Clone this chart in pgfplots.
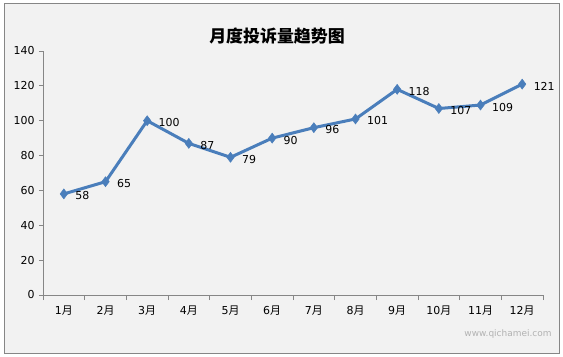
\documentclass[border=0pt]{standalone}
\usepackage{fontspec}
\setmainfont{DejaVu Sans}
\newfontfamily\cjk{Noto Sans CJK SC}
\usepackage{pgfplots}
\pgfplotsset{compat=1.18}
\definecolor{bg}{HTML}{F2F2F2}
\definecolor{ln}{HTML}{4A7EBB}
\definecolor{ax}{HTML}{868686}
\begin{document}
\begin{tikzpicture}[x=1bp,y=1bp]
\fill[white] (0,0) rectangle (563,356);
\filldraw[fill=bg,draw=ax,line width=0.8bp] (4,3) rectangle (559,353);
\node[font=\cjk\bfseries\fontsize{17}{20}\selectfont] at (277,320) {月度投诉量趋势图};
\node[font=\fontsize{9}{10}\selectfont, text=black!30] at (508,22) {www.qichamei.com};
\begin{axis}[
  at={(43bp,61bp)}, anchor=south west,
  scale only axis, width=500bp, height=244bp,
  xmin=0.5, xmax=12.5, ymin=0, ymax=140,
  axis x line=bottom, axis y line=left,
  axis line style={-, draw=ax, line width=0.8bp},
  ytick={0,20,...,140},
  xtick={1,...,12},
  xticklabels={1{\cjk 月},2{\cjk 月},3{\cjk 月},4{\cjk 月},5{\cjk 月},6{\cjk 月},7{\cjk 月},8{\cjk 月},9{\cjk 月},10{\cjk 月},11{\cjk 月},12{\cjk 月}},
  minor xtick={0.5,1.5,...,12.5},
  major x tick style={draw=none},
  tick align=outside,
  major tick length=4bp, minor tick length=5bp,
  tick style={draw=ax, line width=0.8bp},
  ticklabel style={font=\fontsize{11}{13}\selectfont},
  yticklabel style={xshift=-1bp},
  /pgf/number format/assume math mode=true,
  xticklabel style={yshift=-3bp},
  nodes near coords,
  every node near coord/.style={anchor=west, xshift=8bp, yshift=-2bp, font=\fontsize{11}{13}\selectfont, text=black},
  clip=false,
]
\addplot[color=ln, line width=3bp, mark=diamond*, mark size=5bp, mark options={fill=ln, draw=ln, line width=0.5bp}]
  coordinates {(1,58) (2,65) (3,100) (4,87) (5,79) (6,90) (7,96) (8,101) (9,118) (10,107) (11,109) (12,121)};
\end{axis}
\end{tikzpicture}
\end{document}
